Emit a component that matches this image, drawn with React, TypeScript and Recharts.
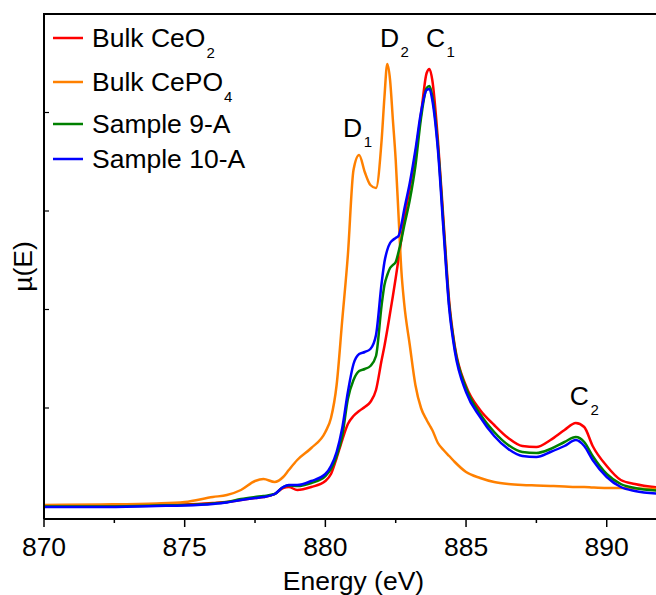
import React from 'react';
import { LineChart, Line, XAxis, YAxis, ReferenceDot } from 'recharts';

// Photon energy (eV)
const energy = [870, 872, 874, 875, 876, 876.5, 877, 877.5, 877.8, 878.2, 878.5, 878.7, 879, 879.5, 880, 880.2, 880.4, 880.6, 880.8, 881, 881.2, 881.4, 881.6, 881.8, 882, 882.1, 882.2, 882.3, 882.4, 882.5, 882.6, 882.7, 882.8, 883, 883.2, 883.4, 883.6, 883.7, 883.8, 884, 884.2, 884.4, 884.6, 885, 885.5, 886, 886.5, 887, 887.5, 888, 888.5, 888.9, 889.2, 889.5, 890, 890.5, 891, 892];

// µ(E), arbitrary units
const bulkCeO2 = [0, 0, 1, 1.5, 3, 4, 6, 8, 9, 12, 18, 19, 16, 19, 25, 32, 48, 66, 82, 90, 95, 99, 104, 116, 146, 160, 176, 193, 210, 228, 247, 267, 287, 318, 352, 392, 433, 437, 426, 366, 285, 205, 160, 120, 96, 81, 68, 60, 59, 66, 76, 83, 79, 60, 40, 26, 22, 18];
const bulkCePO4 = [1, 1.5, 2.5, 4, 9, 11, 16, 25, 27, 24, 29, 36, 46, 58, 74, 88, 121, 186, 251, 336, 351, 334, 321, 318, 366, 409, 442, 426, 386, 346, 291, 236, 203, 161, 121, 98, 86, 81, 76, 63, 56, 50, 44, 34, 28, 24, 22, 21, 20.5, 20, 19.5, 19, 19, 18.5, 18, 18, 17.5, 17];
const sample9A = [-0.5, -0.5, 0.5, 1, 2.5, 4, 7, 9, 10, 12, 19, 20.5, 20, 23, 30, 37, 50, 70, 107, 126, 135, 137, 140, 150, 201, 221, 231, 238, 241, 244, 254, 266, 280, 306, 340, 388, 418, 420, 410, 360, 280, 201, 158, 118, 92, 74, 61, 54, 53, 57, 64, 69, 64, 50, 32, 22, 18, 15];
const sample10A = [-1, -1, 0, 0.5, 2, 3.5, 6, 8, 9, 12, 19, 21, 21, 25, 32, 40, 54, 78, 114, 142, 152, 154, 157, 171, 223, 244, 256, 263, 266, 268, 270, 281, 296, 323, 356, 394, 416, 417, 406, 356, 275, 198, 155, 114, 89, 70, 57, 50, 49, 54, 60, 66, 60, 46, 29, 19, 15, 12];

const xTicks = [870, 872.5, 875, 877.5, 880, 882.5, 885, 887.5, 890];
const yTicks = [98, 196.5, 295, 393.5];
const xDomain = [870, 892];
const yDomain = [-13, 492];

const series = [
  { key: 'ceo2', name: 'Bulk CeO', sub: '2', color: '#FF0000' },
  { key: 'cepo4', name: 'Bulk CePO', sub: '4', color: '#FF8000' },
  { key: 's9', name: 'Sample 9-A', sub: '', color: '#008000' },
  { key: 's10', name: 'Sample 10-A', sub: '', color: '#0000FF' },
];

const annotations = [
  { text: 'D', sub: '1', x: 880.63, y: 369 },
  { text: 'D', sub: '2', x: 881.94, y: 459 },
  { text: 'C', sub: '1', x: 883.575, y: 459 },
  { text: 'C', sub: '2', x: 888.69, y: 101 },
];

const data = energy.map((e, i) => ({
  e,
  ceo2: bulkCeO2[i],
  cepo4: bulkCePO4[i],
  s9: sample9A[i],
  s10: sample10A[i],
}));

const FONT = '"Liberation Sans", Arial, Helvetica, sans-serif';
const MARGIN_TOP = 14;
const AXIS_W = 44;
const CHART_W = 663;

const XTick = (props: any) => {
  const { x, y, payload } = props;
  const v = payload.value;
  const major = Math.abs(v % 5) < 1e-6;
  return (
    <g>
      <line x1={x} x2={x} y1={y} y2={y + (major ? 8 : 4)} stroke="#000" strokeWidth={1.5} />
      {major && (
        <text x={x} y={y + 37} textAnchor="middle" fontSize={26.5} fontFamily={FONT} fill="#000">
          {v}
        </text>
      )}
    </g>
  );
};

const YTick = (props: any) => {
  const { x, y } = props;
  return <line x1={x} x2={x + 5} y1={y} y2={y} stroke="#000" strokeWidth={1.2} />;
};

const XLabel = (props: any) => {
  const vb = props.viewBox;
  return (
    <text x={vb.x + vb.width / 2} y={vb.y + 71} textAnchor="middle" fontSize={26.5} fontFamily={FONT} fill="#000">
      Energy (eV)
    </text>
  );
};

const YLabel = (props: any) => {
  const vb = props.viewBox;
  const cx = vb.x + 23;
  const cy = vb.y + vb.height / 2;
  return (
    <text
      x={cx}
      y={cy}
      transform={`rotate(-90 ${cx} ${cy})`}
      textAnchor="middle"
      dominantBaseline="central"
      fontSize={26.5}
      fontFamily={FONT}
      fill="#000"
    >
      µ(E)
    </text>
  );
};

const rowBaselines = [47, 91, 133, 168];

const LegendBox = () => (
  <svg width={270} height={185} style={{ position: 'absolute', left: 0, top: 0, display: 'block' }}>
    {series.map((s, i) => (
      <g key={s.key}>
        <line x1={53} x2={83} y1={rowBaselines[i] - 9} y2={rowBaselines[i] - 9} stroke={s.color} strokeWidth={2.5} />
        <text x={92} y={rowBaselines[i]} fontSize={26.5} fontFamily={FONT} fill="#000">
          {s.name}
          {s.sub && (
            <tspan fontSize={15} dy={11} dx={1}>
              {s.sub}
            </tspan>
          )}
        </text>
      </g>
    ))}
  </svg>
);

const AnnLabel = (props: any) => {
  const { viewBox, text, sub } = props;
  return (
    <text x={viewBox.x} y={viewBox.y} fontSize={26.5} fontFamily={FONT} fill="#000">
      {text}
      <tspan fontSize={15} dy={10} dx={1.5}>
        {sub}
      </tspan>
    </text>
  );
};

export default function App() {
  return (
    <div style={{ position: 'absolute', left: 0, top: 0, width: 656, height: 595, overflow: 'hidden', background: '#fff' }}>
      <LineChart width={CHART_W} height={595} data={data} margin={{ top: MARGIN_TOP, right: 0, left: 0, bottom: 0 }}>
        <XAxis
          dataKey="e"
          type="number"
          domain={xDomain}
          ticks={xTicks}
          interval={0}
          allowDataOverflow
          height={76}
          tickLine={false}
          tickSize={0}
          tickMargin={0}
          tick={<XTick />}
          axisLine={{ stroke: '#000', strokeWidth: 2 }}
          label={<XLabel />}
        />
        <YAxis
          type="number"
          domain={yDomain}
          ticks={yTicks}
          interval={0}
          allowDataOverflow
          width={AXIS_W}
          tickSize={0}
          tickMargin={0}
          tickLine={false}
          tick={<YTick />}
          axisLine={{ stroke: '#000', strokeWidth: 2 }}
          label={<YLabel />}
        />
        {series.map((s) => (
          <Line
            key={s.key}
            dataKey={s.key}
            name={s.name}
            type="monotone"
            stroke={s.color}
            strokeWidth={2.5}
            dot={false}
            activeDot={false}
            isAnimationActive={false}
          />
        ))}
        {annotations.map((a, i) => (
          <ReferenceDot
            key={i}
            x={a.x}
            y={a.y}
            r={0}
            fill="none"
            stroke="none"
            label={<AnnLabel text={a.text} sub={a.sub} />}
          />
        ))}
      </LineChart>
      {/* top edge of the plot frame */}
      <div
        style={{
          position: 'absolute',
          left: AXIS_W - 1,
          top: MARGIN_TOP - 1,
          width: CHART_W - AXIS_W + 1,
          height: 2,
          background: '#000',
        }}
      />
      <LegendBox />
    </div>
  );
}
